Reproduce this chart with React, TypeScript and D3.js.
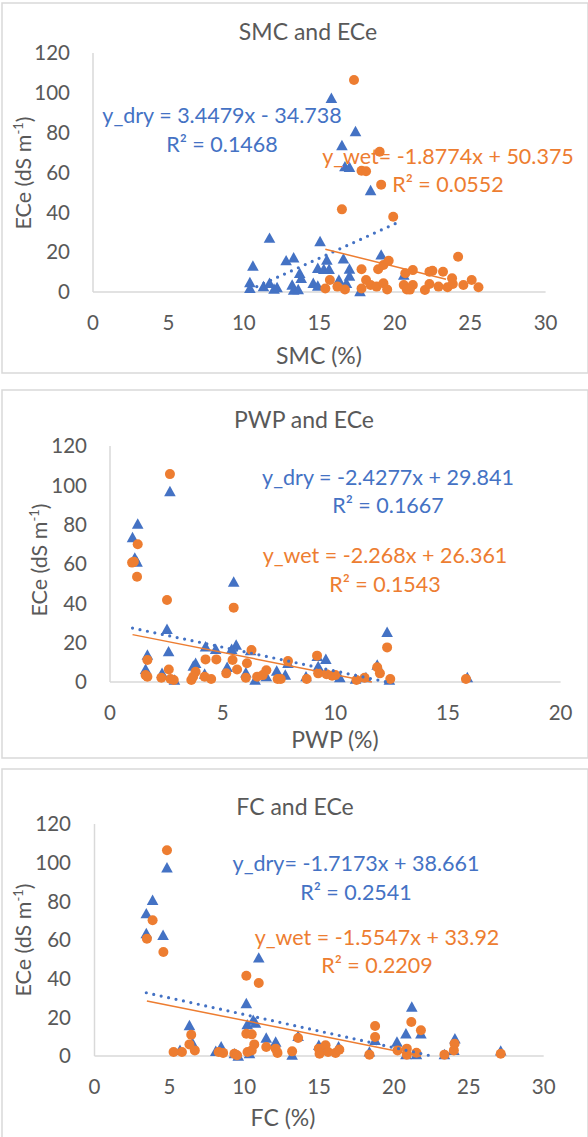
import React from 'react'
import * as d3 from 'd3'

type Pt = [number, number]

// ECe (dS m-1) against soil moisture content, dry (triangles) and wet (circles) seasons
const smcDry: Pt[] = [
  [15.8, 97.2], [17.4, 80.5], [16.5, 73.5], [16.7, 62.9], [17.0, 62.6], [18.4, 50.9],
  [11.7, 27], [15.05, 25.3], [10.6, 13], [12.8, 15.7], [13.3, 17.2], [15.5, 16],
  [16.6, 16.6], [19.1, 18.6], [13.7, 9.4], [13.8, 6.9], [14.9, 11.9], [15.3, 11.4],
  [15.65, 11.4], [17.0, 11.5], [17.0, 8], [10.4, 4.7], [10.4, 1.8], [11.3, 2.7],
  [11.7, 4.4], [12.2, 2.2], [13.2, 3.5], [13.3, 1], [14.6, 4.4], [14.9, 3],
  [16.3, 6], [16.8, 4.4], [17.7, 0.2], [20.6, 8.5], [12.0, 1.5], [13.6, 1.2],
]
const smcWet: Pt[] = [
  [17.3, 106.4], [19.0, 70.4], [17.8, 60.9], [18.1, 60.6], [19.1, 53.9], [16.5, 41.5],
  [19.9, 37.8], [24.2, 17.7], [17.8, 11.4], [18.9, 11.4], [19.25, 13.6], [19.6, 15.7],
  [20.7, 9.4], [21.2, 11], [15.7, 6], [15.4, 1.8], [16.2, 2.7], [16.7, 1.3],
  [17.8, 1.8], [18.1, 6], [18.4, 3.5], [18.8, 2.7], [19.25, 4.4], [19.5, 1.3],
  [20.6, 3.5], [20.8, 1.3], [21.2, 3.5], [22.0, 1], [22.3, 10.2], [22.5, 10.7],
  [23.2, 10.2], [23.8, 6.9], [22.3, 4], [22.9, 2.7], [23.5, 2.4], [23.85, 4],
  [24.55, 3.5], [25.1, 6], [25.55, 2.4], [21.0, 1.2],
]

// ECe against permanent wilting point
const pwpDry: Pt[] = [
  [2.66, 96.8], [1.23, 80.3], [1.0, 73.4], [1.1, 63], [1.2, 61], [5.49, 50.8],
  [2.53, 26.8], [12.3, 25.3], [2.6, 15.4], [5.6, 18.8], [4.24, 17.9], [4.69, 16.6],
  [5.4, 16.6], [6.24, 15.9], [9.58, 11.5], [9.2, 13], [7.9, 9.5], [1.66, 13.7],
  [1.58, 6.4], [3.7, 8.1], [3.8, 9.5], [5.2, 7.5], [6.03, 4.7], [7.4, 5.6],
  [9.24, 7.8], [11.86, 8.6], [2.31, 4.4], [4.2, 4], [7.78, 3.5], [8.7, 2.7],
  [10.2, 2.2], [10.9, 1.5], [11.36, 2.2], [12.4, 1], [15.86, 2.2], [2.86, 1],
  [6.44, 1], [6.94, 2.7],
]
const pwpWet: Pt[] = [
  [2.66, 105.7], [1.23, 70], [0.98, 60.7], [1.06, 61.2], [1.2, 53.5], [2.53, 41.7],
  [5.49, 37.8], [12.3, 17.6], [6.28, 16.3], [9.19, 13.4], [7.9, 10.7], [1.66, 11.2],
  [4.24, 11.5], [4.72, 11.5], [5.44, 11.2], [6.08, 9.5], [5.64, 6.4], [2.61, 6.4],
  [3.8, 5.2], [5.16, 4.4], [6.94, 6], [6.78, 3.5], [6.53, 2.7], [9.24, 4.4],
  [9.61, 4], [9.86, 3.2], [10.0, 3.5], [11.86, 7.5], [11.98, 4.4], [1.58, 3.5],
  [1.66, 2.7], [2.28, 2.2], [2.69, 1.5], [2.83, 1], [3.61, 1], [3.69, 2.7],
  [4.2, 2.7], [4.49, 1.5], [6.03, 2.2], [7.44, 1.5], [7.58, 1.5], [8.73, 1.5],
  [10.94, 1], [11.3, 2.2], [12.44, 1.5], [15.8, 1.5],
]

// ECe against field capacity
const fcDry: Pt[] = [
  [4.84, 97.3], [3.88, 80.5], [3.46, 73.6], [3.46, 63.3], [4.58, 62.4], [10.97, 50.7],
  [10.14, 27.1], [21.19, 25.3], [6.34, 15.7], [10.6, 18.5], [10.2, 16.2], [10.75, 17],
  [11.47, 9.3], [12.1, 7.2], [21.8, 11.5], [20.8, 11.5], [20.2, 7.2], [18.74, 8.1],
  [24.07, 8.9], [6.54, 6.7], [13.6, 10.2], [14.98, 5.5], [16.3, 4.7], [8.46, 4.7],
  [8.1, 2.4], [5.71, 2.9], [9.34, 1.2], [9.6, 0], [10.35, 1.2], [18.36, 2.1],
  [20.8, 0.7], [21.5, 0.7], [23.37, 0.7], [24.0, 2.9], [27.13, 2.6], [13.2, 0.4],
  [15.5, 2.9],
]
const fcWet: Pt[] = [
  [4.84, 106.4], [3.88, 70.2], [3.5, 60.7], [4.6, 53.8], [10.14, 41.5], [10.97, 37.8],
  [21.16, 17.6], [18.74, 15.5], [21.8, 13.3], [6.46, 11], [10.14, 11.5], [10.5, 11.2],
  [13.6, 9.3], [18.74, 9.8], [10.67, 6], [11.47, 4.7], [6.34, 6], [6.7, 2.9],
  [5.84, 2.1], [5.28, 2.1], [8.29, 2.1], [8.59, 1.6], [9.34, 1.2], [9.52, 0.4],
  [10.22, 2.1], [10.5, 2.9], [12.1, 3.8], [12.22, 1.6], [13.2, 2.4], [14.98, 3.8],
  [15.03, 1.2], [15.43, 5.5], [15.6, 2.1], [16.1, 1.6], [16.35, 3.3], [18.36, 0.7],
  [20.24, 2.9], [20.86, 3.8], [20.86, 0.7], [21.5, 1.7], [23.37, 0.7], [24.05, 6.4],
  [24.0, 2.9], [27.13, 1.2],
]

// linear trend: slope, intercept, x extent
const trendSlopes = [3.4479, -1.8774, -2.4277, -2.268, -1.7173, -1.5547]
const trendIntercepts = [-34.738, 50.375, 29.841, 26.361, 38.661, 33.92]
const trendExtents: Pt[] = [[10.4, 20.3], [15.4, 23.4], [1.0, 15.86], [1.0, 15.8], [3.46, 27.13], [3.5, 27.13]]
const eqLabels = [
  'y_dry = 3.4479x - 34.738', 'y_wet= -1.8774x + 50.375',
  'y_dry = -2.4277x + 29.841', 'y_wet = -2.268x + 26.361',
  'y_dry= -1.7173x + 38.661', 'y_wet = -1.5547x + 33.92',
]
const r2Labels = ['R² = 0.1468', 'R² = 0.0552', 'R² = 0.1667', 'R² = 0.1543', 'R² = 0.2541', 'R² = 0.2209']

const titles = ['SMC and ECe', 'PWP and ECe', 'FC and ECe']
const xTitles = ['SMC (%)', 'PWP (%)', 'FC (%)']
const xMaxes = [30, 20, 30]
const yTicks = [0, 20, 40, 60, 80, 100, 120]

const BLUE = '#4472C4'
const ORANGE = '#ED7D31'
const GREY = '#595959'
const AXIS = '#D9D9D9'
const FONT = 'Lato, "Open Sans", sans-serif'

// layout of each panel in page pixels
const panels = [
  { box: [2, 3, 588, 373], x: [93, 545.6], y: [292, 53], yTickX: 70, title: [308, 32], xt: [319, 356], yt: [23, 173],
    eq: [[222, 115, 144], [448, 156, 184]] },
  { box: [2, 390, 588, 758], x: [110, 560.6], y: [682, 446], yTickX: 87, title: [304, 420], xt: [335, 740], yt: [39, 560],
    eq: [[388, 477, 505], [385, 555, 584]] },
  { box: [2, 769, 588, 1140], x: [94.5, 543.7], y: [1056, 824], yTickX: 71, title: [295, 807], xt: [283, 1118], yt: [23, 940],
    eq: [[356, 863, 892], [377, 937, 965]] },
]

const seriesData = [[smcDry, smcWet], [pwpDry, pwpWet], [fcDry, fcWet]]

function Triangle({ cx, cy }: { cx: number; cy: number }) {
  const s = 5.8
  return <path d={`M${cx},${cy - s}L${cx + s},${cy + s * 0.8}L${cx - s},${cy + s * 0.8}Z`} fill={BLUE} />
}

function Panel({ idx }: { idx: number }) {
  const p = panels[idx]
  const xs = d3.scaleLinear().domain([0, xMaxes[idx]]).range(p.x)
  const ys = d3.scaleLinear().domain([0, 120]).range(p.y)
  const [dry, wet] = seriesData[idx]
  const xTicks = d3.range(0, xMaxes[idx] + 1, 5)

  const trend = (k: number) => {
    const m = trendSlopes[k], b = trendIntercepts[k]
    let [a, e] = trendExtents[k]
    if (m < 0 && m * e + b < 0) e = -b / m
    if (m > 0 && m * a + b < 0) a = -b / m
    return d3.line()([[xs(a), ys(m * a + b)], [xs(e), ys(m * e + b)]]) || ''
  }

  return (
    <g fontFamily={FONT}>
      <rect x={p.box[0]} y={p.box[1]} width={p.box[2] - p.box[0]} height={p.box[3] - p.box[1]}
        fill="#fff" stroke={AXIS} strokeWidth={1.5} />
      <text x={p.title[0]} y={p.title[1]} dy="0.35em" textAnchor="middle" fontSize={23} fill={GREY}>{titles[idx]}</text>
      <line x1={p.x[0]} x2={p.x[0]} y1={p.y[0]} y2={p.y[1]} stroke={AXIS} strokeWidth={1.5} />
      <line x1={p.x[0]} x2={p.x[1]} y1={p.y[0]} y2={p.y[0]} stroke={AXIS} strokeWidth={1.5} />
      {yTicks.map(t => (
        <text key={t} x={p.yTickX} y={ys(t)} dy="0.35em" textAnchor="end" fontSize={20.5} fill={GREY}>{t}</text>
      ))}
      {xTicks.map(t => (
        <text key={t} x={xs(t)} y={p.y[0] + 31} dy="0.35em" textAnchor="middle" fontSize={20.5} fill={GREY}>{t}</text>
      ))}
      <text x={p.xt[0]} y={p.xt[1]} dy="0.35em" textAnchor="middle" fontSize={23} fill={GREY}>{xTitles[idx]}</text>
      <text transform={`translate(${p.yt[0]},${p.yt[1]}) rotate(-90)`} dy="0.35em" textAnchor="middle" fontSize={21.5} fill={GREY}>
        ECe (dS m<tspan fontSize={13} dy="-0.6em">-1</tspan><tspan dy="0.45em">)</tspan>
      </text>
      {dry.map((d, i) => <Triangle key={'d' + i} cx={xs(d[0])} cy={ys(d[1])} />)}
      {wet.map((d, i) => <circle key={'w' + i} cx={xs(d[0])} cy={ys(d[1])} r={5} fill={ORANGE} />)}
      <path d={trend(idx * 2)} stroke={BLUE} strokeWidth={3.2} strokeDasharray="0 7.6" strokeLinecap="round" fill="none" />
      <path d={trend(idx * 2 + 1)} stroke={ORANGE} strokeWidth={1.5} fill="none" />
      {[0, 1].map(k => {
        const [cx, y1, y2] = p.eq[k]
        const col = k === 0 ? BLUE : ORANGE
        return (
          <g key={k} fill={col} fontSize={21.5} textAnchor="middle">
            <text x={cx} y={y1} dy="0.35em">{eqLabels[idx * 2 + k]}</text>
            <text x={cx} y={y2} dy="0.35em">{r2Labels[idx * 2 + k]}</text>
          </g>
        )
      })}
    </g>
  )
}

export default function App() {
  return (
    <div style={{ position: 'absolute', left: 0, top: 0 }}>
      <svg width={588} height={1137} style={{ display: 'block', background: '#fff' }}>
        {[0, 1, 2].map(i => <Panel key={i} idx={i} />)}
      </svg>
    </div>
  )
}
